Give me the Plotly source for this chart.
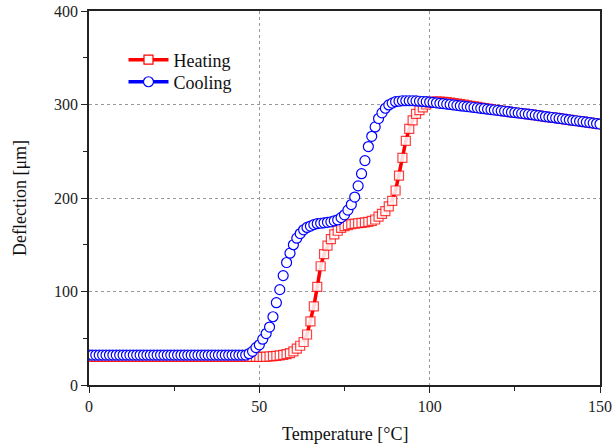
import plotly.graph_objects as go

temperature = list(range(0, 151))

heating = (
    [30.0] * 51 +
    [30.0, 30.2, 30.5, 30.8, 31.2, 31.6, 32.2, 33.0, 34.0,            # 51-59
     36.0, 39.0, 42.0, 46.0, 54.0, 68.0, 84.0, 105.0, 127.0, 140.0,     # 60-69
     149.0, 156.0, 161.0, 165.0, 168.0, 170.0, 171.0, 172.0, 172.5, 173.0,  # 70-79
     173.5, 174.0, 174.5, 175.5, 177.0, 180.0, 183.0, 186.0, 191.0, 197.0,  # 80-89
     208.0, 224.0, 243.0, 261.0, 274.0, 283.0, 290.0, 294.0, 297.0, 300.0,  # 90-99
     302.0, 303.0, 303.0, 303.0, 302.8, 302.5, 302.0, 301.5, 301.0, 300.4,  # 100-109
     299.8, 299.2, 298.6, 298.0, 297.4, 296.8, 296.2, 295.6, 295.0, 294.4,  # 110-119
     293.9, 293.4, 292.9, 292.4, 291.9, 291.4, 290.9, 290.5, 290.0, 289.6,  # 120-129
     289.1, 288.6, 288.1, 287.6, 287.1, 286.6, 286.1, 285.6, 285.1, 284.6,  # 130-139
     284.1, 283.6, 283.1, 282.6, 282.1, 281.6, 281.1, 280.6, 280.1, 279.6,  # 140-149
     279.1]                                                                # 150
)

cooling = (
    [32.0] * 47 +
    [33.5, 36.0, 40.0,                                                     # 47-49
     43.0, 49.0, 55.0, 62.0, 73.0, 88.0, 102.0, 117.0, 131.0, 141.0,        # 50-59
     150.0, 157.0, 162.0, 166.0, 168.5, 170.0, 171.5, 172.5, 173.0, 173.5,  # 60-69
     174.0, 174.5, 175.5, 176.5, 179.0, 182.0, 187.0, 193.0, 201.0, 213.0,  # 70-79
     226.0, 240.0, 255.0, 266.0, 276.0, 285.0, 291.0, 296.0, 299.5, 301.5,  # 80-89
     303.0, 303.5, 304.0, 304.0, 304.0, 304.0, 303.8, 303.5, 303.2, 303.0,  # 90-99
     302.6, 302.2, 301.8, 301.3, 300.9, 300.4, 300.0, 299.5, 299.1, 298.6,  # 100-109
     298.2, 297.7, 297.3, 296.8, 296.4, 295.9, 295.5, 295.0, 294.6, 294.1,  # 110-119
     293.7, 293.2, 292.8, 292.3, 291.8, 291.4, 290.9, 290.5, 290.0, 289.6,  # 120-129
     289.1, 288.6, 288.1, 287.6, 287.1, 286.6, 286.1, 285.6, 285.1, 284.6,  # 130-139
     284.1, 283.6, 283.1, 282.6, 282.1, 281.6, 281.1, 280.6, 280.1, 279.6,  # 140-149
     279.1]                                                                # 150
)

x_ticks = [0, 50, 100, 150]
y_ticks = [0, 100, 200, 300, 400]

RED = "#ff0000"
BLUE = "#0000ff"
FONT = "Liberation Serif"

fig = go.Figure()

fig.add_trace(go.Scatter(
    x=temperature, y=heating, mode="lines+markers", name="Heating",
    line=dict(color=RED, width=3.5),
    marker=dict(symbol="square", size=9, color="rgba(255,255,255,0.85)",
                line=dict(color="rgba(255,0,0,0.75)", width=1.2)),
    showlegend=False,
))
fig.add_trace(go.Scatter(
    x=temperature, y=cooling, mode="markers", name="Cooling",
    marker=dict(symbol="circle", size=10, color="rgba(255,255,255,0.9)",
                line=dict(color=BLUE, width=1.2)),
    showlegend=False,
))
fig.add_trace(go.Scatter(
    x=[None], y=[None], mode="lines+markers", name="Heating", legend="legend",
    line=dict(color=RED, width=3.5),
    marker=dict(symbol="square", size=9, color="white", line=dict(color=RED, width=1.2)),
))
fig.add_trace(go.Scatter(
    x=[None], y=[None], mode="lines+markers", name="Cooling", legend="legend2",
    line=dict(color=BLUE, width=3.5),
    marker=dict(symbol="circle", size=10, color="white", line=dict(color=BLUE, width=1.2)),
))

axis_common = dict(
    showline=True, linecolor="#222", linewidth=1.5, mirror=True,
    ticks="outside", ticklen=6, tickwidth=1.2, tickcolor="#222",
    showgrid=True, gridcolor="#999", griddash="dot", gridwidth=1,
    zeroline=False, automargin=False,
    tickfont=dict(family=FONT, size=16, color="#222"),
)

fig.update_xaxes(
    range=[0, 150], tickvals=x_ticks, ticktext=[str(v) for v in x_ticks],
    minor=dict(tickvals=[25, 75, 125], ticks="outside", ticklen=4, tickcolor="#222", showgrid=False),
    **axis_common,
)
fig.update_yaxes(
    range=[0, 400], tickvals=y_ticks, ticktext=[str(v) for v in y_ticks],
    minor=dict(tickvals=[50, 150, 250, 350], ticks="outside", ticklen=4, tickcolor="#222", showgrid=False),
    **axis_common,
)

legend_style = dict(xanchor="left", yanchor="middle", bgcolor="rgba(0,0,0,0)",
                    itemwidth=40, font=dict(family=FONT, size=18, color="#111"))

fig.update_layout(
    width=612, height=448,
    margin=dict(l=89, r=12, t=11, b=63),
    plot_bgcolor="white", paper_bgcolor="white",
    font=dict(family=FONT, color="#111"),
    legend=dict(x=0.0675, y=0.869, **legend_style),
    legend2=dict(x=0.0675, y=0.810, **legend_style),
    annotations=[
        dict(text="Temperature [°C]", xref="paper", yref="paper", x=0.5, y=-0.131,
             xanchor="center", yanchor="middle", showarrow=False,
             font=dict(family=FONT, size=18, color="#111")),
        dict(text="Deflection [μm]", xref="paper", yref="paper", x=-0.135, y=0.5,
             xanchor="center", yanchor="middle", showarrow=False, textangle=-90,
             font=dict(family=FONT, size=18, color="#111")),
    ],
)

fig.write_html("out.html", config={"displayModeBar": False},
               post_script="document.body.style.margin='0';")
